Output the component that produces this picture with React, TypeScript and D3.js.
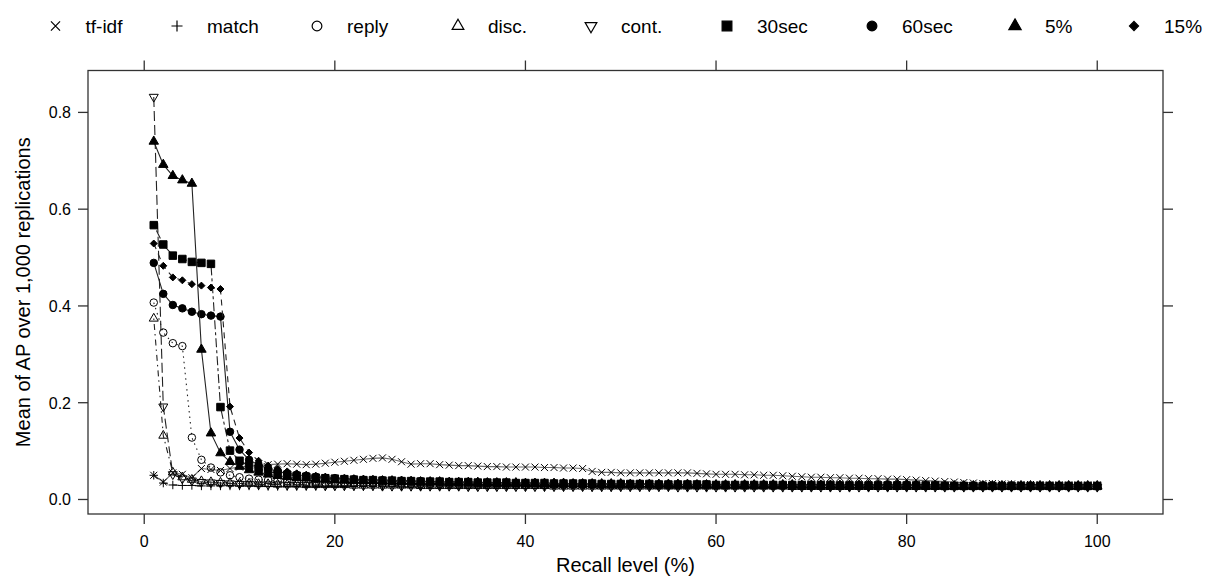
import React from "react";
import * as d3 from "d3";

// recall levels 1..100 (%)
const recall = d3.range(1, 101);

const tfidf = [
  0.05, 0.036, 0.055, 0.052, 0.045, 0.064, 0.062, 0.06, 0.064, 0.067,
  0.069, 0.07, 0.072, 0.073, 0.074, 0.073, 0.072, 0.073, 0.075, 0.077,
  0.079, 0.081, 0.083, 0.085, 0.086, 0.083, 0.078, 0.073, 0.074, 0.074,
  0.072, 0.071, 0.07, 0.07, 0.069, 0.068, 0.068, 0.067, 0.067, 0.067,
  0.067, 0.066, 0.066, 0.065, 0.065, 0.064, 0.058, 0.056, 0.056, 0.055,
  0.055, 0.055, 0.055, 0.055, 0.055, 0.055, 0.055, 0.054, 0.053, 0.052,
  0.052, 0.052, 0.051, 0.051, 0.05, 0.05, 0.049, 0.048, 0.047, 0.046,
  0.046, 0.045, 0.045, 0.044, 0.044, 0.043, 0.043, 0.042, 0.042, 0.041,
  0.04, 0.039, 0.038, 0.037, 0.036, 0.035, 0.034, 0.033, 0.033, 0.032,
  0.032, 0.031, 0.031, 0.031, 0.03, 0.03, 0.03, 0.03, 0.03, 0.03,
];

const match = [
  0.05, 0.034, 0.03, 0.029, 0.029, 0.028, 0.028, 0.028, 0.028, 0.028,
  0.028, 0.028, 0.027, 0.027, 0.027, 0.027, 0.027, 0.027, 0.027, 0.027,
  0.027, 0.027, 0.027, 0.027, 0.027, 0.027, 0.026, 0.026, 0.026, 0.026,
  0.026, 0.026, 0.026, 0.026, 0.026, 0.026, 0.026, 0.026, 0.026, 0.026,
  0.026, 0.026, 0.026, 0.026, 0.026, 0.026, 0.025, 0.025, 0.025, 0.025,
  0.025, 0.025, 0.025, 0.025, 0.025, 0.025, 0.025, 0.025, 0.025, 0.025,
  0.025, 0.025, 0.025, 0.025, 0.025, 0.025, 0.025, 0.025, 0.025, 0.025,
  0.025, 0.025, 0.025, 0.025, 0.025, 0.025, 0.025, 0.025, 0.025, 0.025,
  0.025, 0.025, 0.025, 0.025, 0.025, 0.025, 0.025, 0.025, 0.025, 0.025,
  0.025, 0.025, 0.025, 0.025, 0.025, 0.025, 0.025, 0.025, 0.025, 0.025,
];

const reply = [
  0.407, 0.345, 0.323, 0.317, 0.128, 0.082, 0.066, 0.056, 0.05, 0.046,
  0.043, 0.041, 0.04, 0.039, 0.038, 0.037, 0.036, 0.036, 0.035, 0.035,
  0.034, 0.034, 0.034, 0.033, 0.033, 0.033, 0.033, 0.032, 0.032, 0.032,
  0.032, 0.032, 0.031, 0.031, 0.031, 0.031, 0.031, 0.031, 0.03, 0.03,
  0.03, 0.03, 0.03, 0.03, 0.03, 0.03, 0.03, 0.03, 0.029, 0.029,
  0.029, 0.029, 0.029, 0.029, 0.029, 0.029, 0.029, 0.029, 0.029, 0.029,
  0.029, 0.029, 0.029, 0.029, 0.029, 0.028, 0.028, 0.028, 0.028, 0.028,
  0.028, 0.028, 0.028, 0.028, 0.028, 0.028, 0.028, 0.028, 0.028, 0.028,
  0.028, 0.028, 0.028, 0.028, 0.028, 0.027, 0.027, 0.027, 0.027, 0.027,
  0.027, 0.027, 0.027, 0.027, 0.027, 0.027, 0.027, 0.027, 0.027, 0.027,
];

const disc = [
  0.374, 0.132, 0.056, 0.046, 0.041, 0.038, 0.036, 0.035, 0.034, 0.033,
  0.033, 0.032, 0.032, 0.031, 0.031, 0.031, 0.03, 0.03, 0.03, 0.03,
  0.03, 0.029, 0.029, 0.029, 0.029, 0.029, 0.029, 0.029, 0.028, 0.028,
  0.028, 0.028, 0.028, 0.028, 0.028, 0.028, 0.028, 0.028, 0.028, 0.028,
  0.028, 0.028, 0.027, 0.027, 0.027, 0.027, 0.027, 0.027, 0.027, 0.027,
  0.027, 0.027, 0.027, 0.027, 0.027, 0.027, 0.027, 0.027, 0.027, 0.027,
  0.027, 0.027, 0.027, 0.027, 0.027, 0.027, 0.027, 0.026, 0.026, 0.026,
  0.026, 0.026, 0.026, 0.026, 0.026, 0.026, 0.026, 0.026, 0.026, 0.026,
  0.026, 0.026, 0.026, 0.026, 0.026, 0.026, 0.026, 0.026, 0.026, 0.026,
  0.026, 0.026, 0.026, 0.026, 0.026, 0.026, 0.026, 0.026, 0.026, 0.026,
];

const cont = [
  0.832, 0.192, 0.052, 0.043, 0.039, 0.036, 0.035, 0.034, 0.033, 0.032,
  0.032, 0.031, 0.031, 0.031, 0.03, 0.03, 0.03, 0.03, 0.029, 0.029,
  0.029, 0.029, 0.029, 0.029, 0.028, 0.028, 0.028, 0.028, 0.028, 0.028,
  0.028, 0.028, 0.028, 0.027, 0.027, 0.027, 0.027, 0.027, 0.027, 0.027,
  0.027, 0.027, 0.027, 0.027, 0.027, 0.027, 0.027, 0.027, 0.027, 0.027,
  0.027, 0.027, 0.027, 0.027, 0.027, 0.026, 0.026, 0.026, 0.026, 0.026,
  0.026, 0.026, 0.026, 0.026, 0.026, 0.026, 0.026, 0.026, 0.026, 0.026,
  0.026, 0.026, 0.026, 0.026, 0.026, 0.026, 0.026, 0.026, 0.026, 0.026,
  0.026, 0.026, 0.026, 0.026, 0.026, 0.026, 0.026, 0.026, 0.026, 0.026,
  0.026, 0.026, 0.026, 0.026, 0.026, 0.026, 0.026, 0.026, 0.026, 0.026,
];

const sec30 = [
  0.567, 0.527, 0.504, 0.497, 0.491, 0.489, 0.487, 0.191, 0.101, 0.08,
  0.07, 0.063, 0.058, 0.054, 0.051, 0.049, 0.047, 0.045, 0.044, 0.043,
  0.042, 0.041, 0.04, 0.04, 0.039, 0.039, 0.038, 0.038, 0.037, 0.037,
  0.037, 0.036, 0.036, 0.036, 0.035, 0.035, 0.035, 0.035, 0.034, 0.034,
  0.034, 0.034, 0.033, 0.033, 0.033, 0.033, 0.033, 0.032, 0.032, 0.032,
  0.032, 0.032, 0.032, 0.031, 0.031, 0.031, 0.031, 0.031, 0.031, 0.03,
  0.03, 0.03, 0.03, 0.03, 0.03, 0.03, 0.03, 0.03, 0.03, 0.03,
  0.03, 0.03, 0.029, 0.029, 0.029, 0.029, 0.029, 0.029, 0.029, 0.029,
  0.029, 0.029, 0.029, 0.028, 0.028, 0.028, 0.028, 0.028, 0.028, 0.028,
  0.028, 0.028, 0.028, 0.028, 0.028, 0.028, 0.028, 0.028, 0.028, 0.028,
];

const sec60 = [
  0.489, 0.425, 0.402, 0.395, 0.388, 0.383, 0.38, 0.378, 0.14, 0.103,
  0.082, 0.071, 0.064, 0.058, 0.054, 0.051, 0.049, 0.047, 0.045, 0.044,
  0.043, 0.042, 0.041, 0.04, 0.04, 0.039, 0.039, 0.038, 0.038, 0.037,
  0.037, 0.036, 0.036, 0.036, 0.035, 0.035, 0.035, 0.034, 0.034, 0.034,
  0.034, 0.033, 0.033, 0.033, 0.033, 0.033, 0.032, 0.032, 0.032, 0.032,
  0.032, 0.032, 0.031, 0.031, 0.031, 0.031, 0.031, 0.031, 0.031, 0.03,
  0.03, 0.03, 0.03, 0.03, 0.03, 0.03, 0.03, 0.03, 0.03, 0.03,
  0.03, 0.029, 0.029, 0.029, 0.029, 0.029, 0.029, 0.029, 0.029, 0.029,
  0.029, 0.029, 0.028, 0.028, 0.028, 0.028, 0.028, 0.028, 0.028, 0.028,
  0.028, 0.028, 0.028, 0.028, 0.028, 0.028, 0.028, 0.028, 0.028, 0.028,
];

const pct5 = [
  0.74, 0.692, 0.669, 0.66, 0.653, 0.31, 0.137, 0.096, 0.078, 0.068,
  0.061, 0.056, 0.052, 0.049, 0.047, 0.045, 0.044, 0.043, 0.042, 0.041,
  0.04, 0.04, 0.039, 0.039, 0.038, 0.038, 0.037, 0.037, 0.036, 0.036,
  0.036, 0.035, 0.035, 0.035, 0.035, 0.034, 0.034, 0.034, 0.034, 0.033,
  0.033, 0.033, 0.033, 0.033, 0.032, 0.032, 0.032, 0.032, 0.032, 0.032,
  0.031, 0.031, 0.031, 0.031, 0.031, 0.031, 0.031, 0.03, 0.03, 0.03,
  0.03, 0.03, 0.03, 0.03, 0.03, 0.03, 0.03, 0.03, 0.029, 0.029,
  0.029, 0.029, 0.029, 0.029, 0.029, 0.029, 0.029, 0.029, 0.029, 0.029,
  0.029, 0.028, 0.028, 0.028, 0.028, 0.028, 0.028, 0.028, 0.028, 0.028,
  0.028, 0.028, 0.028, 0.028, 0.028, 0.028, 0.028, 0.028, 0.028, 0.028,
];

const pct15 = [
  0.529, 0.483, 0.459, 0.453, 0.445, 0.442, 0.438, 0.435, 0.192, 0.127,
  0.097, 0.08, 0.07, 0.063, 0.058, 0.054, 0.051, 0.049, 0.047, 0.045,
  0.044, 0.043, 0.042, 0.041, 0.04, 0.04, 0.039, 0.039, 0.038, 0.038,
  0.037, 0.037, 0.036, 0.036, 0.036, 0.035, 0.035, 0.035, 0.035, 0.034,
  0.034, 0.034, 0.034, 0.033, 0.033, 0.033, 0.033, 0.033, 0.032, 0.032,
  0.032, 0.032, 0.032, 0.031, 0.031, 0.031, 0.031, 0.031, 0.031, 0.031,
  0.03, 0.03, 0.03, 0.03, 0.03, 0.03, 0.03, 0.03, 0.03, 0.03,
  0.029, 0.029, 0.029, 0.029, 0.029, 0.029, 0.029, 0.029, 0.029, 0.029,
  0.029, 0.029, 0.028, 0.028, 0.028, 0.028, 0.028, 0.028, 0.028, 0.028,
  0.028, 0.028, 0.028, 0.028, 0.028, 0.028, 0.028, 0.028, 0.028, 0.028,
];

const xTicks = [0, 20, 40, 60, 80, 100];
const yTicks = [0, 0.2, 0.4, 0.6, 0.8];

// ---- marker shapes (size = width in px, squared) ----
const times = {
  draw(ctx: any, size: number) {
    const r = Math.sqrt(size) / 2;
    ctx.moveTo(-r, -r); ctx.lineTo(r, r);
    ctx.moveTo(-r, r); ctx.lineTo(r, -r);
  },
};
const plus = {
  draw(ctx: any, size: number) {
    const r = Math.sqrt(size) / 2;
    ctx.moveTo(-r, 0); ctx.lineTo(r, 0);
    ctx.moveTo(0, -r); ctx.lineTo(0, r);
  },
};
const circle = {
  draw(ctx: any, size: number) {
    const r = Math.sqrt(size) / 2;
    ctx.moveTo(r, 0);
    ctx.arc(0, 0, r, 0, Math.PI * 2);
    ctx.closePath();
  },
};
const triUp = {
  draw(ctx: any, size: number) {
    const w = Math.sqrt(size);
    const h = (w * Math.sqrt(3)) / 2;
    ctx.moveTo(0, (-2 * h) / 3);
    ctx.lineTo(w / 2, h / 3);
    ctx.lineTo(-w / 2, h / 3);
    ctx.closePath();
  },
};
const triDown = {
  draw(ctx: any, size: number) {
    const w = Math.sqrt(size);
    const h = (w * Math.sqrt(3)) / 2;
    ctx.moveTo(0, (2 * h) / 3);
    ctx.lineTo(w / 2, -h / 3);
    ctx.lineTo(-w / 2, -h / 3);
    ctx.closePath();
  },
};
const square = {
  draw(ctx: any, size: number) {
    const r = Math.sqrt(size) / 2;
    ctx.rect(-r, -r, 2 * r, 2 * r);
  },
};
const diamond = {
  draw(ctx: any, size: number) {
    const r = Math.sqrt(size) / 2;
    ctx.moveTo(0, -r); ctx.lineTo(r, 0); ctx.lineTo(0, r); ctx.lineTo(-r, 0);
    ctx.closePath();
  },
};

const series = [
  { name: "tf-idf", values: tfidf, shape: times, w: 7, filled: false, dash: "", line: "#6a6a6a" },
  { name: "match", values: match, shape: plus, w: 8.5, filled: false, dash: "6 5", line: "#222" },
  { name: "reply", values: reply, shape: circle, w: 7.5, filled: false, dash: "1.5 4", line: "#222" },
  { name: "disc.", values: disc, shape: triUp, w: 9, filled: false, dash: "1.5 4 6 4", line: "#222" },
  { name: "cont.", values: cont, shape: triDown, w: 9, filled: false, dash: "10 4", line: "#222" },
  { name: "30sec", values: sec30, shape: square, w: 7.5, filled: true, dash: "3 3 9 3", line: "#222" },
  { name: "60sec", values: sec60, shape: circle, w: 7.5, filled: true, dash: "", line: "#222" },
  { name: "5%", values: pct5, shape: triUp, w: 9.5, filled: true, dash: "", line: "#222" },
  { name: "15%", values: pct15, shape: diamond, w: 7, filled: true, dash: "6 5", line: "#222" },
];

const W = 1205;
const H = 578;
const panel = { left: 88, right: 1163, top: 70.5, bottom: 514 };
const legendX = [55.5, 177, 317, 458, 591, 727, 872, 1015, 1134];
const font = "'Liberation Sans', Arial, Helvetica, sans-serif";

export default function App() {
  const x = d3.scaleLinear().domain([-5.9, 106.9]).range([panel.left, panel.right]);
  const y = d3.scaleLinear().domain([-0.03, 0.8866]).range([panel.bottom, panel.top]);
  const line = d3
    .line<number>()
    .x((_, i) => x(recall[i]))
    .y((d) => y(d));
  const sym = (shape: any, w: number) => d3.symbol().type(shape).size(w * w)() as string;
  const tickLen = 10;
  const axisCol = "#333";

  return (
    <svg
      width={W}
      height={H}
      viewBox={`0 0 ${W} ${H}`}
      style={{ position: "absolute", left: 0, top: 0, background: "#fff" }}
      fontFamily={font}
    >
      {/* legend */}
      {series.map((s, i) => (
        <g key={s.name}>
          <path
            d={sym(s.shape, s.w * 1.3)}
            transform={`translate(${legendX[i]},26)`}
            fill={s.filled ? "#000" : "none"}
            stroke="#000"
            strokeWidth={1.2}
          />
          <text x={legendX[i] + 30} y={33} fontSize={19} fill="#000">
            {s.name}
          </text>
        </g>
      ))}

      {/* panel box */}
      <rect
        x={panel.left}
        y={panel.top}
        width={panel.right - panel.left}
        height={panel.bottom - panel.top}
        fill="none"
        stroke={axisCol}
        strokeWidth={1.3}
      />

      {/* x ticks */}
      {xTicks.map((t) => (
        <g key={"x" + t}>
          <line x1={x(t)} x2={x(t)} y1={panel.bottom} y2={panel.bottom + tickLen} stroke={axisCol} strokeWidth={1.3} />
          <line x1={x(t)} x2={x(t)} y1={panel.top} y2={panel.top - tickLen} stroke={axisCol} strokeWidth={1.3} />
          <text x={x(t)} y={547} fontSize={16} textAnchor="middle" fill="#000">
            {t}
          </text>
        </g>
      ))}

      {/* y ticks */}
      {yTicks.map((t) => (
        <g key={"y" + t}>
          <line x1={panel.left} x2={panel.left - tickLen} y1={y(t)} y2={y(t)} stroke={axisCol} strokeWidth={1.3} />
          <line x1={panel.right} x2={panel.right + tickLen} y1={y(t)} y2={y(t)} stroke={axisCol} strokeWidth={1.3} />
          <text x={71} y={y(t) + 6} fontSize={16} textAnchor="end" fill="#000">
            {t.toFixed(1)}
          </text>
        </g>
      ))}

      {/* axis titles */}
      <text x={(panel.left + panel.right) / 2} y={572} fontSize={20} textAnchor="middle" fill="#000">
        Recall level (%)
      </text>
      <text
        transform={`translate(30,${(panel.top + panel.bottom) / 2}) rotate(-90)`}
        fontSize={20}
        textAnchor="middle"
        fill="#000"
      >
        Mean of AP over 1,000 replications
      </text>

      {/* series */}
      {series.map((s) => (
        <g key={"s" + s.name}>
          <path
            d={line(s.values) as string}
            fill="none"
            stroke={s.line}
            strokeWidth={1.1}
            strokeDasharray={s.dash || undefined}
          />
          {s.values.map((v, i) => (
            <path
              key={i}
              d={sym(s.shape, s.w)}
              transform={`translate(${x(recall[i])},${y(v)})`}
              fill={s.filled ? "#000" : "none"}
              stroke="#000"
              strokeWidth={1}
            />
          ))}
        </g>
      ))}
    </svg>
  );
}
